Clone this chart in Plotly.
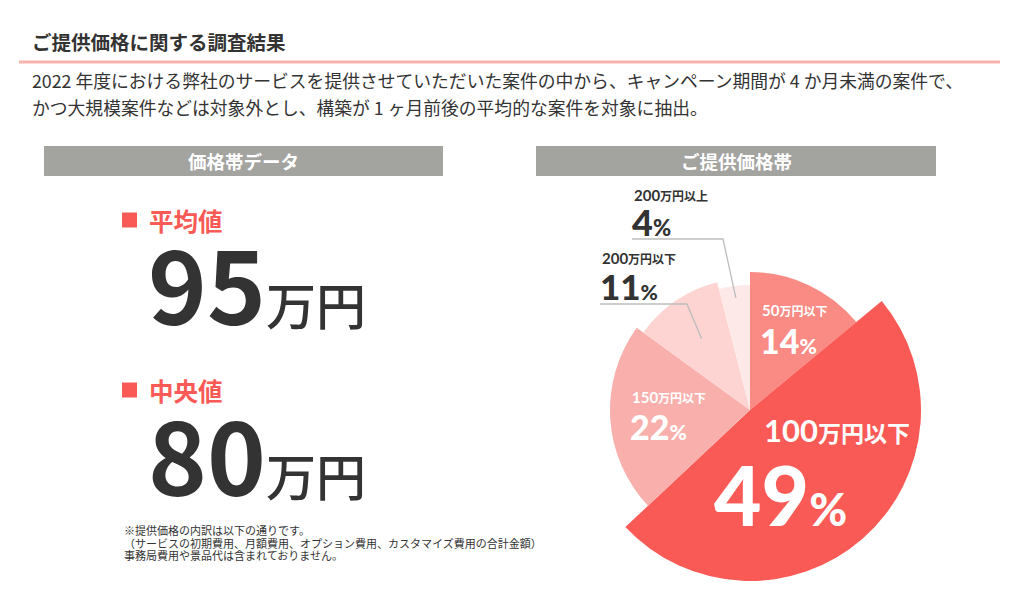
import re
import numpy as np
import plotly.graph_objects as go

# ---------------- data ----------------
categories = ["50万円以下", "100万円以下", "150万円以下", "200万円以下", "200万円以上"]
shares = [14, 49, 22, 11, 4]          # %
avg_label, avg_value = "平均値", 95     # 万円
med_label, med_value = "中央値", 80     # 万円
unit = "万円"

title_text = "ご提供価格に関する調査結果"
para_lines = [
    "2022 年度における弊社のサービスを提供させていただいた案件の中から、キャンペーン期間が 4 か月未満の案件で、",
    "かつ大規模案件などは対象外とし、構築が 1 ヶ月前後の平均的な案件を対象に抽出。",
]
note_lines = [
    "※提供価格の内訳は以下の通りです。",
    "（サービスの初期費用、月額費用、オプション費用、カスタマイズ費用の合計金額）",
    "事務局費用や景品代は含まれておりません。",
]
left_header = "価格帯データ"
right_header = "ご提供価格帯"

# ---------------- style ----------------
W, H = 1019, 613
FONT = "Noto Sans CJK JP"
NUMFONT = "Lato, Noto Sans CJK JP"
RED = "#FA5A55"
DARK = "#333333"
GRAY = "#A3A39F"
slice_colors = ["#F98A84", "#FA5A55", "#F9AFAC", "#FDD4D2", "#FCE9E8"]
slice_radius = [138, 171, 140, 132, 125]   # px
CX, CY, RBOX = 750, 410, 180


def X(p):
    return p / W


def Y(p):
    return 1 - p / H


fig = go.Figure()

# ---------------- pie (barpolar with variable radius) ----------------
sh = np.array(shares, dtype=float)
widths = sh / sh.sum() * 360
ends = np.cumsum(widths)
mids = ends - widths / 2

fig.add_trace(go.Barpolar(
    r=slice_radius, theta=mids, width=widths,
    marker=dict(color=slice_colors, line=dict(width=0)),
    hoverinfo="skip", subplot="polar",
))

fig.update_layout(
    polar=dict(
        domain=dict(x=[X(CX - RBOX), X(CX + RBOX)], y=[Y(CY + RBOX), Y(CY - RBOX)]),
        bgcolor="rgba(0,0,0,0)",
        angularaxis=dict(rotation=90, direction="clockwise", visible=False,
                         showgrid=False, showline=False, showticklabels=False),
        radialaxis=dict(range=[0, RBOX], visible=False, showgrid=False,
                        showline=False, showticklabels=False),
        hole=0,
    )
)

shapes = []
ann = []

# ---------------- header / title ----------------
ann.append(dict(text=title_text, x=X(30), y=Y(41), xanchor="left", yanchor="middle",
                font=dict(family=FONT, size=19.5, color=DARK, weight=700)))
shapes.append(dict(type="line", xref="paper", yref="paper", x0=X(19), x1=X(1000),
                   y0=Y(62), y1=Y(62), line=dict(color="#F7B3B0", width=3)))
for i, (line, yy) in enumerate(zip(para_lines, [80, 107])):
    ann.append(dict(text=line, x=X(30), y=Y(yy), xanchor="left", yanchor="middle",
                    font=dict(family=FONT, size=17.8, color=DARK)))

for (x0, x1), txt in [((44, 443), left_header), ((536, 936), right_header)]:
    shapes.append(dict(type="rect", xref="paper", yref="paper", x0=X(x0), x1=X(x1),
                       y0=Y(176), y1=Y(146), fillcolor=GRAY, line=dict(width=0)))
    ann.append(dict(text=txt, x=X((x0 + x1) / 2), y=Y(161), xanchor="center", yanchor="middle",
                    font=dict(family=FONT, size=18.5, color="white", weight=700)))

# ---------------- left: average / median ----------------
for lab, val, ys, yv in [(avg_label, avg_value, 220, 281), (med_label, med_value, 390, 452)]:
    shapes.append(dict(type="rect", xref="paper", yref="paper", x0=X(122), x1=X(137),
                       y0=Y(ys + 7.5), y1=Y(ys - 7.5), fillcolor=RED, line=dict(width=0)))
    ann.append(dict(text=lab, x=X(147), y=Y(ys), xanchor="left", yanchor="middle",
                    font=dict(family=FONT, size=24.5, color=RED, weight=700)))
    ann.append(dict(text=f"{val}<span style='font-size:50px;font-weight:500'>{unit}</span>",
                    x=X(146), y=Y(yv), xanchor="left", yanchor="middle",
                    font=dict(family=FONT, size=100, color=DARK, weight=700)))

for line, yy in zip(note_lines, [530, 542.5, 555]):
    ann.append(dict(text=line, x=X(122), y=Y(yy), xanchor="left", yanchor="middle",
                    font=dict(family=FONT, size=11, color=DARK)))

# ---------------- pie labels ----------------
# (label x, label y, pct x, pct y, name size, name-suffix size, pct size, pct-suffix size, color)
label_style = [
    (760, 310, 758, 340, 15, 12, 34, 21, "white"),
    (762, 430, 712, 494, 31, 23, 82, 46, "white"),
    (630, 397, 628, 426, 15, 12, 34, 21, "white"),
    (600, 258, 598, 286, 15, 12, 35, 21, DARK),
    (632, 195, 630, 222, 15, 12, 36, 22, DARK),
]
for cat, pct, (lx, ly, px_, py, s1, s2, s3, s4, col) in zip(categories, shares, label_style):
    m = re.match(r"(\d+)(.*)", cat)
    num, rest = m.group(1), m.group(2)
    ann.append(dict(text=f"{num}<span style='font-size:{s2}px'>{rest}</span>",
                    x=X(lx), y=Y(ly), xanchor="left", yanchor="middle",
                    font=dict(family=NUMFONT, size=s1, color=col, weight=700)))
    ann.append(dict(text=f"{pct}<span style='font-size:{s4}px'>%</span>",
                    x=X(px_), y=Y(py), xanchor="left", yanchor="middle",
                    font=dict(family=NUMFONT, size=s3, color=col, weight=900)))

# leader lines for small slices (index 3 and 4)
for idx, (hx0, hx1, hy, rr) in [(4, (632, 723, 239, 113)), (3, (600, 687, 304, 86))]:
    ang = np.deg2rad(mids[idx])
    ex = CX + rr * np.sin(ang)
    ey = CY - rr * np.cos(ang)
    path = f"M {X(hx0)},{Y(hy)} L {X(hx1)},{Y(hy)} L {X(ex)},{Y(ey)}"
    shapes.append(dict(type="path", xref="paper", yref="paper", path=path,
                       line=dict(color="#BDBDBD", width=1.3)))

fig.update_layout(
    width=W, height=H, margin=dict(l=0, r=0, t=0, b=0),
    paper_bgcolor="white", plot_bgcolor="white", showlegend=False,
    shapes=shapes, annotations=ann,
)
for a in fig.layout.annotations:
    a.showarrow = False
    a.xref = "paper"
    a.yref = "paper"

fig.write_html("out.html")
